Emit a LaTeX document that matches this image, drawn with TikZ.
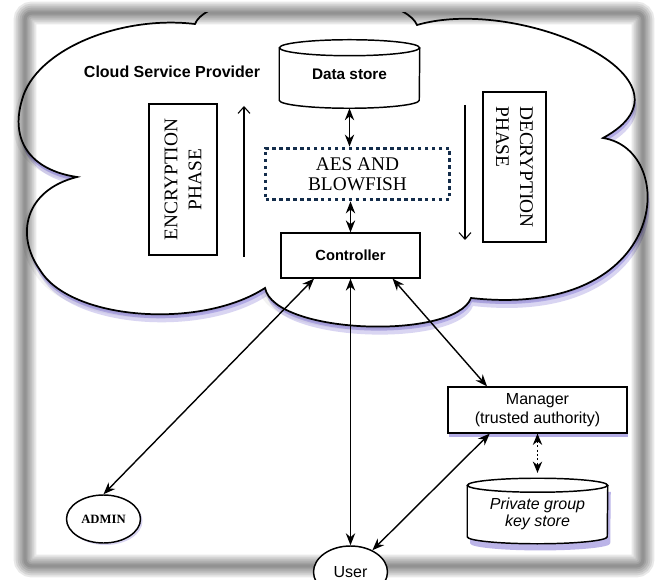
\documentclass[tikz,border=0pt]{standalone}
\usepackage{fontspec}
\setmainfont{Liberation Serif}
\setsansfont{Liberation Sans}
\usetikzlibrary{arrows.meta,calc,shadows,shapes.geometric}
\definecolor{aesblue}{RGB}{20,45,75}
\definecolor{shblue}{RGB}{105,90,205}
\newcommand\mycloudpath[1]{\path[#1] (195,24) .. controls (210,-15) and (400,-15) .. (417,25) .. controls (520,-5) and (710,80) .. (603,138) .. controls (680,150) and (670,320) .. (471,298) .. controls (455,340) and (275,335) .. (265,288) .. controls (200,330) and (70,320) .. (40,270) .. controls (15,235) and (25,190) .. (77,177) .. controls (30,170) and (10,140) .. (22,100) .. controls (35,50) and (120,15) .. (195,24) -- cycle;}
\newcommand\mycylbody[3]{\path[#1] ($(#2.north west)+(0,#3)$) -- ($(#2.south west)+(0,-#3)$)
  arc[start angle=180, end angle=360, x radius=52.5pt, y radius=#3*0.75pt]
  -- ($(#2.north east)+(0,#3)$) -- cycle;}
\tikzset{
  sanslbl/.style={font=\sffamily\fontsize{12}{13.8}\selectfont, align=center, inner sep=0pt},
  seriflbl/.style={font=\rmfamily\fontsize{14.5}{18}\selectfont},
  plainbox/.style={draw, line width=0.9pt, inner sep=0pt},
  biarrow/.style={line width=1.05pt, {Stealth[length=9pt,width=7pt]}-{Stealth[length=9pt,width=7pt]}},
  dotarrow/.style={line width=1pt, dash pattern=on 1.5pt off 1.8pt, {Stealth[length=8.5pt,width=7pt]}-{Stealth[length=8.5pt,width=7pt]}},
  phasearrow/.style={line width=0.8pt, -{Straight Barb[length=5pt,width=9pt]}},
  cylline/.style={line width=1.1pt},
  frameband/.style={black, opacity=.085, rounded corners=5pt},
  blueshadow/.style={drop shadow={shadow xshift=1pt, shadow yshift=-3pt, fill=shblue, opacity=.5}},
}
\begin{document}
\begin{tikzpicture}[x=0.75pt,y=-0.75pt]
\useasboundingbox (0,0) rectangle (660,580);
\fill[white] (0,0) rectangle (660,580);

% cloud with shadows (hidden above the frame band)
\begin{scope}
\clip (0,13) rectangle (660,580);
\mycloudpath{fill=black, opacity=.05, shift={(-5,4)}}
\mycloudpath{fill=black, opacity=.07, shift={(-2,2)}}
\mycloudpath{fill=shblue, opacity=.25, shift={(2,8)}}
\mycloudpath{fill=shblue, opacity=.35, shift={(1,4)}}
\mycloudpath{fill=white, draw=black, line width=1.3pt}
\end{scope}

% photo frame band (soft)
\foreach \w in {17pt,14pt,11pt,8pt,5pt,2.5pt}
  \draw[frameband, line width=\w] (25,13) rectangle (643,566);

% cloud label
\node[sanslbl, font=\sffamily\bfseries\fontsize{12}{14}\selectfont] (csp) at (172,72) {Cloud Service Provider};

% data store cylinder
\node[sanslbl, font=\sffamily\bfseries\fontsize{11.5}{13}\selectfont, minimum width=105pt, minimum height=51pt] (ds) at (349.5,74) {Data store};
\draw[cylline] ($(ds.north west)+(0,8)$) -- ($(ds.south west)+(0,-8)$)
  arc[start angle=180, end angle=360, x radius=52.5pt, y radius=6pt]
  -- ($(ds.north east)+(0,8)$);
\draw[cylline] ($(ds.north)+(0,8)$) ellipse[x radius=52.5pt, y radius=6pt];

% phases
\node[plainbox, seriflbl, rotate=90, align=center, minimum width=113.25pt, minimum height=51pt] (enc) at (183,179.5) {ENCRYPTION\\PHASE};
\node[plainbox, seriflbl, rotate=-90, align=left, minimum width=112.5pt, minimum height=47.25pt] (dec) at (514.5,167) {DECRYPTION\\PHASE};
\coordinate (ea1) at (244,257);
\coordinate (ea2) at (244,106);
\coordinate (da1) at (465,105);
\coordinate (da2) at (465,240);
\draw[phasearrow] (ea1) -- (ea2);
\draw[phasearrow] (da1) -- (da2);

% AES box
\node[draw=aesblue, line width=2.6pt, dash pattern=on 2.6pt off 2.6pt, inner sep=0pt,
      minimum width=138pt, minimum height=38.5pt, align=center,
      font=\rmfamily\fontsize{14.5}{15}\selectfont] (aes) at (357.5,174) {AES AND\\BLOWFISH};

% controller
\node[plainbox, sanslbl, font=\sffamily\bfseries\fontsize{11}{13}\selectfont, minimum width=104.25pt, minimum height=33.75pt] (ctrl) at (350.5,255.5) {Controller};

\draw[biarrow] (ds.south) -- (ds.south |- aes.north);
\draw[biarrow] (ctrl.north |- aes.south) -- (ctrl.north);

% manager
\node[plainbox, sanslbl, fill=white, blueshadow, minimum width=134.25pt, minimum height=34.5pt] (mgr) at (537.5,410) {Manager\\(trusted authority)};

% private group key store
\node[sanslbl, minimum width=105pt, minimum height=48.75pt] (ks) at (537.5,511) {};
\begin{scope}[transform canvas={shift={(2.25pt,-5pt)}}]
\mycylbody{fill=shblue, opacity=.45}{ks}{7}
\end{scope}
\mycylbody{fill=white}{ks}{7}
\node[sanslbl, font=\sffamily\itshape\fontsize{12}{13}\selectfont] (kslabel) at ($(ks)+(0,3)$) {Private group\\key store};
\draw[cylline] ($(ks.north west)+(0,7)$) -- ($(ks.south west)+(0,-7)$)
  arc[start angle=180, end angle=360, x radius=52.5pt, y radius=5.25pt]
  -- ($(ks.north east)+(0,7)$);
\draw[cylline] ($(ks.north)+(0,7)$) ellipse[x radius=52.5pt, y radius=5.25pt];

% admin
\node[draw, ellipse, line width=1.1pt, fill=white, inner sep=0pt, minimum width=55.5pt, minimum height=36pt,
      drop shadow={shadow xshift=1.5pt, shadow yshift=-1.5pt, fill=shblue, opacity=.25},
      font=\rmfamily\bfseries\fontsize{9.5}{11}\selectfont] (admin) at (103.5,519) {ADMIN};

% user
\node[draw, ellipse, line width=1.1pt, fill=white, inner sep=0pt, minimum width=55.5pt, minimum height=39pt,
      font=\sffamily\fontsize{12}{13}\selectfont] (user) at (350.5,572) {User};

% connectors
\coordinate (c1) at ($(ctrl.south west)!0.24!(ctrl.south east)$);
\coordinate (c3) at ($(ctrl.south west)!0.80!(ctrl.south east)$);
\coordinate (m1) at ($(mgr.north west)!0.22!(mgr.north east)$);
\coordinate (m2) at ($(mgr.south west)!0.235!(mgr.south east)$);
\draw[biarrow] (c1) -- (admin.north);
\draw[biarrow] (ctrl.south) -- (ctrl.south |- user.north);
\draw[biarrow] (c3) -- (m1);
\draw[biarrow] (m2) -- (user);
\draw[dotarrow, shorten >=4pt] (mgr.south) -- (ks.north);
\end{tikzpicture}
\end{document}
